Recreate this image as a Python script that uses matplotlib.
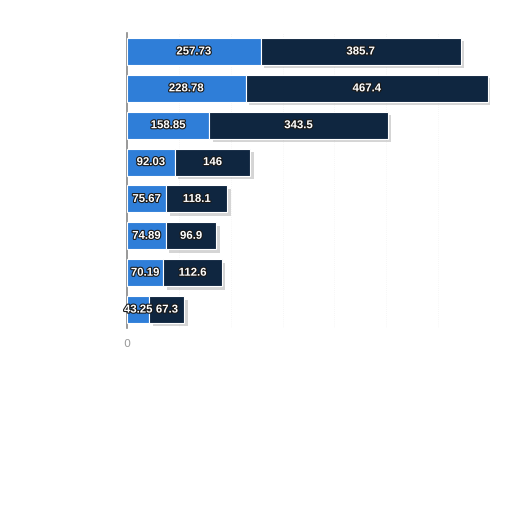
import matplotlib
matplotlib.use("Agg")
import matplotlib.pyplot as plt
import matplotlib.patheffects as pe
import numpy as np

categories = ["A", "B", "C", "D", "E", "F", "G", "H"]
series1 = [257.73, 228.78, 158.85, 92.03, 75.67, 74.89, 70.19, 43.25]
series2 = [385.7, 467.4, 343.5, 146, 118.1, 96.9, 112.6, 67.3]
labels2 = ["385.7", "467.4", "343.5", "146", "118.1", "96.9", "112.6", "67.3"]

c1 = "#2f7ed8"
c2 = "#0f2640"

fig = plt.figure(figsize=(5.12, 5.12), dpi=100)
ax = fig.add_axes([127/512, 1-328/512, (490-127)/512, (328-33)/512])

y = np.arange(len(categories))
h = 0.73
shadow = [pe.SimplePatchShadow(offset=(2.5, -2.5), shadow_rgbFace="#888888", alpha=0.35), pe.Normal()]
b1 = ax.barh(y, series1, height=h, color=c1, edgecolor="white", linewidth=0.8, zorder=3)
b2 = ax.barh(y, series2, left=series1, height=h, color=c2, edgecolor="white", linewidth=0.8, zorder=3)
for bar in list(b2):
    bar.set_path_effects(shadow)

outline = [pe.withStroke(linewidth=1.6, foreground="#1a1a1a")]
for i in range(len(categories)):
    ax.text(series1[i]/2, y[i], f"{series1[i]:g}", ha="center", va="center", color="white",
            fontsize=8.2, fontweight="bold", family="Liberation Sans", path_effects=outline, zorder=5)
    ax.text(series1[i] + series2[i]/2, y[i], labels2[i], ha="center", va="center", color="white",
            fontsize=8.2, fontweight="bold", family="Liberation Sans", path_effects=outline, zorder=5)

ax.set_xlim(0, 700)
ax.set_ylim(len(categories) - 0.5, -0.5)
ax.set_xticks(np.arange(0, 701, 100))
ax.xaxis.grid(True, color="#eeeeee", linestyle=(0, (1, 2)), linewidth=0.5, zorder=0)
ax.set_axisbelow(True)
ax.set_xticklabels(["0"] + [""] * 7)
ax.tick_params(axis="x", length=0, labelcolor="#999999", labelsize=8, pad=8)
ax.tick_params(axis="y", left=False, labelleft=False)
for s in ["top", "right", "bottom"]:
    ax.spines[s].set_visible(False)
ax.spines["left"].set_color("#888888")
ax.spines["left"].set_linewidth(1.2)

fig.savefig("out.png", dpi=100, facecolor="white")
